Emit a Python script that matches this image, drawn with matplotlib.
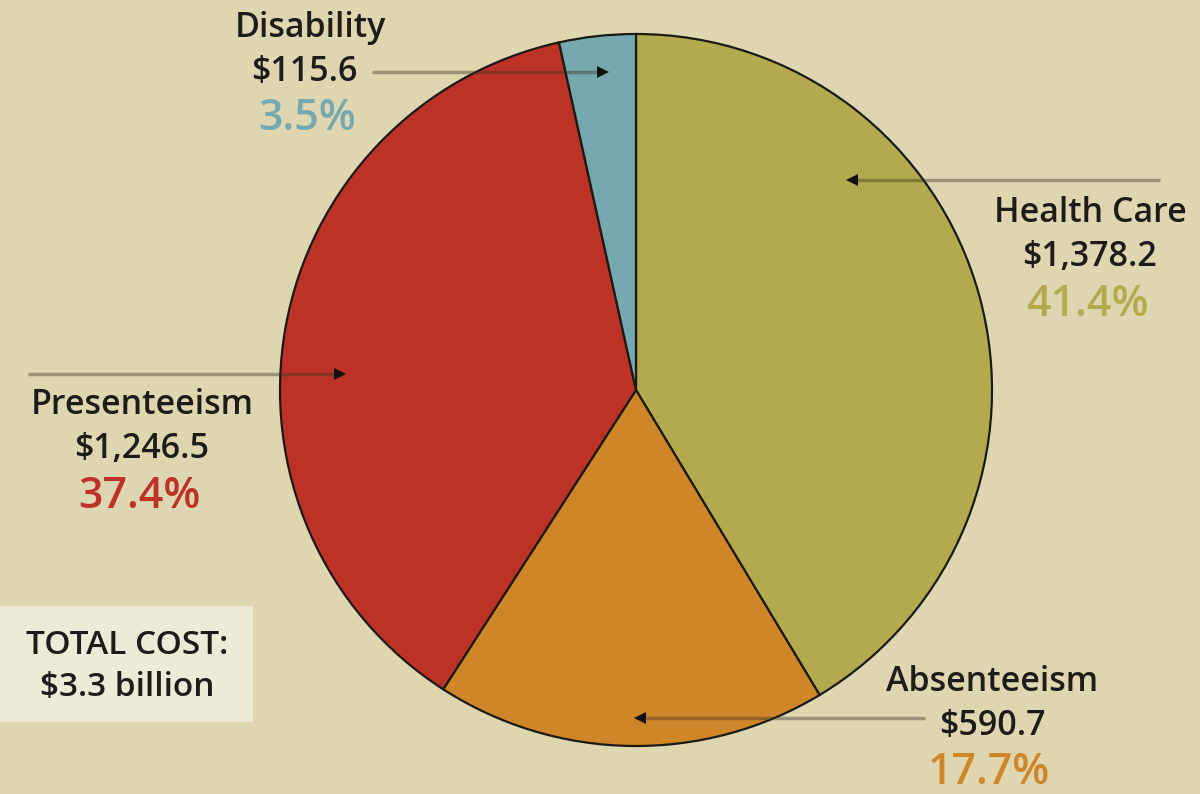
import numpy as np
import matplotlib
matplotlib.use("Agg")
import matplotlib.pyplot as plt
from matplotlib.patches import Rectangle

# cost breakdown, $ millions (clockwise from 12 o'clock)
categories = ["Health Care", "Absenteeism", "Presenteeism", "Disability"]
costs = [1378.2, 590.7, 1246.5, 115.6]
cost_labels = ["$1,378.2", "$590.7", "$1,246.5", "$115.6"]
pct_labels = ["41.4%", "17.7%", "37.4%", "3.5%"]
colors = ["#B3AA4E", "#CF8629", "#BC3226", "#76A9AF"]
total_label = ["TOTAL COST:", "$3.3 billion"]

BG = "#DDD6B0"
FONT = "Open Sans"
INK = "#1e1c18"

fig = plt.figure(figsize=(12, 7.94), dpi=100)
fig.patch.set_facecolor(BG)
ax = fig.add_axes([0, 0, 1, 1])
ax.set_facecolor(BG)

cx, cy, r = 636, 390, 356
ax.pie(costs, colors=colors, center=(cx, cy), radius=r,
       startangle=-90, counterclock=True, frame=True,
       wedgeprops=dict(edgecolor="#1c1a14", linewidth=1.6))
ax.set_xlim(0, 1200)
ax.set_ylim(794, 0)   # pixel-like coords, y down
ax.axis("off")

# label blocks: (x, y of name line), leader line (x0, x1, y)
label_pos = {
    "Health Care":  (1090, 213),
    "Absenteeism":  (992, 682),
    "Presenteeism": (142, 405),
    "Disability":   (310, 28),
}
leaders = {
    "Health Care":  (1160, 852, 180),
    "Absenteeism":  (925, 640, 718),
    "Presenteeism": (28, 340, 374),
    "Disability":   (372, 603, 72),
}

for i, name in enumerate(categories):
    x, y = label_pos[name]
    dx = -6 if name == "Disability" else 0
    ax.text(x, y, name, ha="center", va="center", fontsize=24.5,
            fontweight="semibold", family=FONT, color=INK)
    ax.text(x + dx, y + 44, cost_labels[i], ha="center", va="center",
            fontsize=24.5, fontweight="semibold", family=FONT, color=INK)
    ax.text(x - 3, y + 91, pct_labels[i], ha="center", va="center",
            fontsize=31, fontweight="semibold", family=FONT, color=colors[i])

    x0, x1, ly = leaders[name]
    ax.plot([x0, x1], [ly, ly], color="#3a3320", alpha=0.4, lw=2.5,
            solid_capstyle="butt", zorder=5)
    marker = ">" if x1 > x0 else "<"
    ax.plot([x1], [ly], marker=marker, color="#111111", markersize=8,
            markeredgewidth=0, zorder=6)

# total cost box
ax.add_patch(Rectangle((0, 606), 253, 116, facecolor="#EDEAD8",
                       edgecolor="none", zorder=4))
ax.text(127, 645, total_label[0], ha="center", va="center", fontsize=24,
        fontweight="semibold", family=FONT, color=INK, zorder=5)
ax.text(127, 688, total_label[1], ha="center", va="center", fontsize=24,
        fontweight="semibold", family=FONT, color=INK, zorder=5)

fig.savefig("out.png", dpi=100, facecolor=BG)
